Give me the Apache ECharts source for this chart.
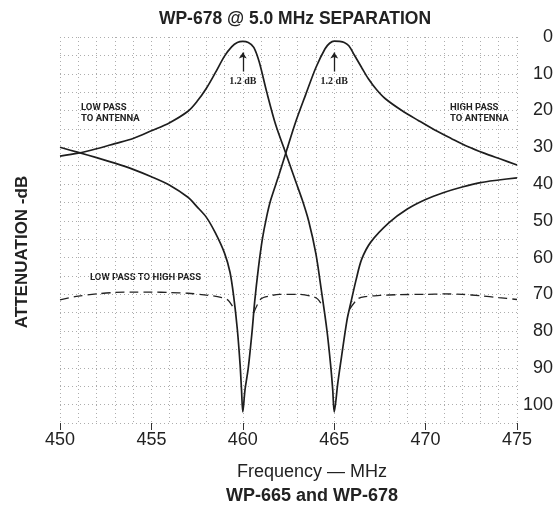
<!doctype html>
<html lang="en">
<head>
<meta charset="UTF-8">
<title>WP-678 @ 5.0 MHz SEPARATION</title>
<script src="https://cdn.jsdelivr.net/npm/echarts@6/dist/echarts.min.js"></script>
<style>
  html, body { margin: 0; padding: 0; background: #fff; }
  #main { width: 556px; height: 508px; }
</style>
</head>
<body>
<div id="main"></div>
<script type="text/javascript">
    // low pass to antenna: passes 460, notch at 465
    var lowPassFreq = [450, 451, 452, 453, 454, 455, 456, 457, 457.5, 458, 458.5, 459, 459.4, 459.7, 460, 460.3, 460.6, 460.9,
        461.3, 461.8, 462.35, 462.9, 463.25, 463.6, 464, 464.3, 464.6, 464.8, 464.92, 465, 465.2, 465.4, 465.7, 465.9,
        466.2, 466.5, 467, 468, 469, 470, 471, 472, 473, 474, 475];
    var lowPassAtten = [32.4, 31.6, 30.4, 29.0, 27.6, 25.5, 23.3, 20.2, 17.5, 14.0, 9.7, 5.2, 2.6, 1.5, 1.2, 1.5, 2.8, 6.8,
        14.8, 23.9, 31.6, 39.4, 44.3, 50, 59, 69, 79.7, 89, 96, 102, 94, 87, 77, 72.5,
        66, 60.5, 55.8, 50.5, 46.8, 44.2, 42.3, 40.8, 39.6, 38.9, 38.3];

    // high pass to antenna: notch at 460, passes 465
    var highPassFreq = [450, 451, 452, 453, 454, 455, 456, 457, 457.5, 458, 458.5, 459, 459.3, 459.5, 459.7, 459.85, 459.93, 460,
        460.12, 460.3, 460.5, 460.65, 460.85, 461.07, 461.3, 461.53, 461.98, 462.35, 462.9, 463.43, 464, 464.5, 464.75, 465,
        465.3, 465.55, 465.8, 466.1, 466.5, 466.85, 467.3, 467.8, 468.7, 469.6, 470.5, 471.4, 472.3, 473.2, 474.1, 475];
    var highPassAtten = [30.0, 31.4, 32.8, 34.3, 36.0, 38.0, 40.3, 43.6, 46.2, 49.0, 53.3, 58.8, 64, 70.5, 79.5, 89, 96, 102,
        96, 90, 80.5, 72, 63, 55, 49, 44.3, 37.5, 31.6, 23.0, 15.8, 8.3, 3.2, 1.7, 1.1,
        1.2, 1.5, 2.4, 4.9, 8.3, 11.2, 14.2, 16.8, 20.0, 22.7, 25.3, 27.6, 29.8, 31.6, 33.2, 34.8];

    // low pass to high pass isolation (dashed), null = hidden behind the notches
    var isoFreq = [450, 451, 452, 453, 454, 455, 456, 457, 458, 458.8, 459.2, 459.58, 460, 460.6, 461, 461.5, 462, 463, 463.8,
        464.1, 464.4, 465, 465.85, 466.3, 466.7, 467.5, 468.5, 470, 471, 472, 473, 474, 475];
    var isoAtten = [71.5, 70.5, 69.9, 69.5, 69.4, 69.4, 69.5, 69.7, 70.2, 70.8, 71.6, 74.5, null, 75, 71.2, 70.4, 70.0, 70.0, 70.6,
        71.3, 73.5, null, 74, 71.2, 70.6, 70.3, 70.1, 70.0, 69.9, 70.0, 70.4, 70.9, 71.4];

    var freqTicks = [450, 455, 460, 465, 470, 475];
    var attenTicks = [0, 10, 20, 30, 40, 50, 60, 70, 80, 90, 100];
    var passLoss = [{freq: 460, text: '1.2 dB'}, {freq: 465, text: '1.2 dB'}];

    function pairs(xs, ys) {
        var out = [];
        for (var i = 0; i < xs.length; i++) {
            out.push([xs[i], ys[i] == null ? '-' : ys[i]]);
        }
        return out;
    }

    var gridLine = {show: true, lineStyle: {color: '#adadad', width: 1, type: [1, 3]}};
    var smallFont = 'Roboto, "Liberation Sans", sans-serif';

    var arrows = [];
    for (var i = 0; i < passLoss.length; i++) {
        arrows.push([{coord: [passLoss[i].freq, 9.4]}, {coord: [passLoss[i].freq, 4.2]}]);
    }

    var myChart = echarts.init(document.getElementById('main'));
    var option = {
        animation: false,
        backgroundColor: '#fff',
        grid: {left: 60, right: 37, top: 37, bottom: 85},
        xAxis: {
            type: 'value', min: freqTicks[0], max: freqTicks[freqTicks.length - 1], interval: 5,
            axisLine: {show: false, onZero: false},
            axisTick: {show: true, length: 7, lineStyle: {color: '#333', width: 1}},
            axisLabel: {fontFamily: 'Liberation Sans', fontSize: 18, color: '#222', margin: 8},
            splitLine: gridLine,
            minorTick: {show: false, splitNumber: 5},
            minorSplitLine: gridLine
        },
        yAxis: {
            type: 'value', inverse: true, min: 0, max: 105, interval: 5, position: 'right',
            axisLine: {show: false}, axisTick: {show: false},
            axisLabel: {
                fontFamily: 'Liberation Sans', fontSize: 18, color: '#222', align: 'right', margin: 36,
                formatter: function (v) { return attenTicks.indexOf(v) >= 0 ? String(v) : ''; }
            },
            splitLine: gridLine
        },
        graphic: [
            {type: 'text', x: 295, y: 19, style: {text: 'WP-678 @ 5.0 MHz SEPARATION', align: 'center', verticalAlign: 'middle',
                fontFamily: 'Liberation Sans', fontWeight: 'bold', fontSize: 17.5, fill: '#222'}},
            {type: 'text', x: 312, y: 472, style: {text: 'Frequency \u2014 MHz', align: 'center', verticalAlign: 'middle',
                fontFamily: 'Liberation Sans', fontSize: 18, fill: '#222'}},
            {type: 'text', x: 312, y: 496, style: {text: 'WP-665 and WP-678', align: 'center', verticalAlign: 'middle',
                fontFamily: 'Liberation Sans', fontWeight: 'bold', fontSize: 18, fill: '#222'}},
            {type: 'text', x: 22, y: 252, rotation: Math.PI / 2, style: {text: 'ATTENUATION -dB', align: 'center', verticalAlign: 'middle',
                fontFamily: 'Liberation Sans', fontWeight: 'bold', fontSize: 17, fill: '#222'}},
            {type: 'text', x: 81, y: 113, style: {text: 'LOW PASS\nTO ANTENNA', align: 'left', verticalAlign: 'middle',
                fontFamily: smallFont, fontWeight: 'bold', fontSize: 9.5, lineHeight: 11.5, fill: '#222'}},
            {type: 'text', x: 450, y: 113, style: {text: 'HIGH PASS\nTO ANTENNA', align: 'left', verticalAlign: 'middle',
                fontFamily: smallFont, fontWeight: 'bold', fontSize: 9.5, lineHeight: 11.5, fill: '#222'}},
            {type: 'text', x: 90, y: 278, style: {text: 'LOW PASS TO HIGH PASS', align: 'left', verticalAlign: 'middle',
                fontFamily: smallFont, fontWeight: 'bold', fontSize: 9.5, fill: '#222'}}
        ],
        series: [{
            name: 'Low pass to antenna', type: 'line', data: pairs(lowPassFreq, lowPassAtten),
            showSymbol: false, smooth: 0.3,
            lineStyle: {color: '#1e1e1e', width: 1.7},
            markLine: {
                silent: true, symbol: ['none', 'arrow'], symbolSize: 6,
                lineStyle: {color: '#1e1e1e', width: 1.3, type: 'solid'},
                label: {show: false},
                data: arrows
            },
            markPoint: {
                silent: true, symbol: 'rect', symbolSize: 0,
                label: {show: true, position: 'inside', fontFamily: 'Liberation Serif', fontWeight: 'bold', fontSize: 10, color: '#222',
                    formatter: function (p) { return p.name; }},
                data: passLoss.map(function (d) { return {name: d.text, coord: [d.freq, 12.2]}; })
            }
        }, {
            name: 'High pass to antenna', type: 'line', data: pairs(highPassFreq, highPassAtten),
            showSymbol: false, smooth: 0.3,
            lineStyle: {color: '#1e1e1e', width: 1.7}
        }, {
            name: 'Low pass to high pass', type: 'line', data: pairs(isoFreq, isoAtten),
            showSymbol: false, smooth: 0.3, connectNulls: false,
            lineStyle: {color: '#222', width: 1.3, type: [9, 5]}
        }]
    };
    myChart.setOption(option);
</script>
</body>
</html>
